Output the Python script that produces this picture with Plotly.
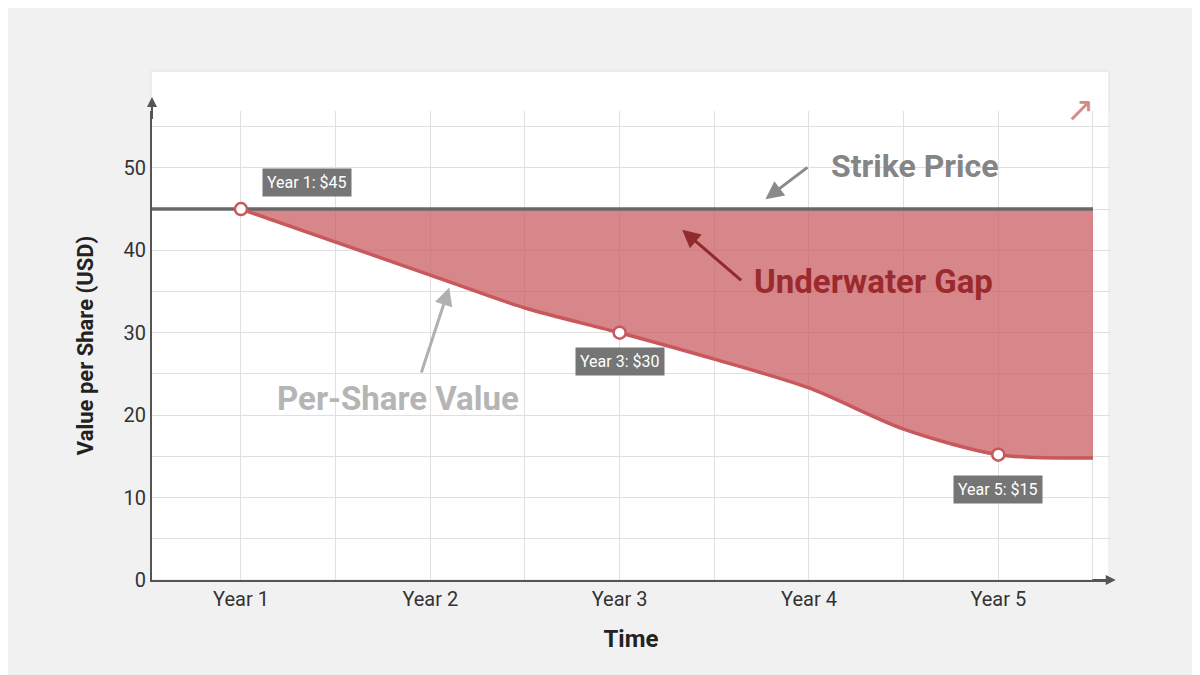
import plotly.graph_objects as go

# per-share value (years, USD)
value_years = [1, 1.5, 2, 2.5, 3, 3.5, 4, 4.5, 5, 5.5]
value_usd = [45, 41, 37, 33, 30, 26.8, 23.3, 18.3, 15.2, 14.8]
strike_price = 45
highlight_years = [1, 3, 5]
highlight_values = [45, 30, 15.2]
highlight_labels = ["Year 1: $45", "Year 3: $30", "Year 5: $15"]
year_ticks = [1, 2, 3, 4, 5]
year_labels = ["Year 1", "Year 2", "Year 3", "Year 4", "Year 5"]

RED = "#c8585b"
FILL = "rgba(200,88,91,0.72)"
GRAY = "#686868"

fig = go.Figure()

# strike line (also the upper edge of the fill)
fig.add_trace(go.Scatter(
    x=[value_years[0], value_years[-1]], y=[strike_price, strike_price],
    mode="lines", line=dict(color=GRAY, width=3.5), hoverinfo="skip",
))
fig.add_trace(go.Scatter(
    x=value_years, y=value_usd, mode="lines", fill="tonexty", fillcolor=FILL,
    line=dict(color=RED, width=3.5, shape="spline", smoothing=0.8), hoverinfo="skip",
))
# extend strike line to left edge
fig.add_trace(go.Scatter(
    x=[0.53, 1], y=[strike_price, strike_price], mode="lines",
    line=dict(color=GRAY, width=3.5), hoverinfo="skip",
))
fig.add_trace(go.Scatter(
    x=highlight_years, y=highlight_values, mode="markers",
    marker=dict(size=12, color="white", line=dict(color=RED, width=2.5)),
    hoverinfo="skip",
))

label_pos = [(1.35, 48.2), (3.0, 26.5), (5.0, 11.0)]
for (x, y), text in zip(label_pos, highlight_labels):
    fig.add_annotation(
        x=x, y=y, text=text, showarrow=False, bgcolor="#757575",
        font=dict(family="Roboto", size=16, color="white"), borderpad=4,
    )

# callouts
fig.add_annotation(x=4.56, y=50.2, text="<b>Strike Price</b>", showarrow=False,
                   font=dict(family="Roboto", size=32, color="#858585"))
fig.add_annotation(x=3.77, y=46.2, ax=4.0, ay=50.2, axref="x", ayref="y",
                   showarrow=True, arrowhead=2, arrowsize=1.2, arrowwidth=3,
                   arrowcolor="#8a8a8a", text="")
fig.add_annotation(x=4.34, y=36.2, text="<b>Underwater Gap</b>", showarrow=False,
                   font=dict(family="Roboto", size=33, color="#9b2a2e"))
fig.add_annotation(x=3.33, y=42.5, ax=3.65, ay=36.2, axref="x", ayref="y",
                   showarrow=True, arrowhead=2, arrowsize=1.2, arrowwidth=3,
                   arrowcolor="#8f2a2e", text="")
fig.add_annotation(x=1.83, y=22.0, text="<b>Per-Share Value</b>", showarrow=False,
                   font=dict(family="Roboto", size=33, color="#b5b5b5"))
fig.add_annotation(x=2.1, y=35.5, ax=1.95, ay=25.0, axref="x", ayref="y",
                   showarrow=True, arrowhead=2, arrowsize=1.2, arrowwidth=3,
                   arrowcolor="#b0b0b0", text="")
fig.add_annotation(x=0.985, y=1.06, xref="paper", yref="paper", text="↗",
                   showarrow=False, font=dict(size=34, color="#d08c88"))

# white card behind plot
fig.add_shape(type="rect", xref="paper", yref="paper", x0=-0.001, x1=0.999,
              y0=0.0, y1=1.085, fillcolor="white", line=dict(color="#e2e2e2", width=1),
              layer="below")

grid_x = [1 + 0.5 * i for i in range(10)]
fig.update_xaxes(
    range=[0.53, 5.59], tickvals=grid_x,
    ticktext=[year_labels[year_ticks.index(v)] if v in year_ticks else "" for v in grid_x],
    showgrid=True, gridcolor="#e0e0e0", ticks="", zeroline=False,
    showline=True, linecolor="#555", linewidth=2,
    tickfont=dict(family="Roboto", size=20, color="#333"),
    title=dict(text="<b>Time</b>", font=dict(family="Roboto", size=24, color="#222"), standoff=20),
)
grid_y = list(range(0, 60, 5))
fig.update_yaxes(
    range=[0, 56.9], tickvals=grid_y,
    ticktext=[str(v) if v % 10 == 0 else "" for v in grid_y],
    showgrid=True, gridcolor="#e0e0e0", ticks="", zeroline=False,
    showline=True, linecolor="#555", linewidth=2,
    tickfont=dict(family="Roboto", size=20, color="#333"),
    title=dict(text="<b>Value per Share (USD)</b>", font=dict(family="Roboto", size=22, color="#222"), standoff=24),
)
# axis arrowheads
fig.add_annotation(x=0, y=1.03, ax=0, ay=0.98, xref="x domain", yref="y domain",
                   axref="x domain", ayref="y domain", showarrow=True, arrowhead=2,
                   arrowsize=1, arrowwidth=2, arrowcolor="#555", text="")
fig.add_annotation(x=1.006, y=0, ax=0.98, ay=0, xref="x domain", yref="y domain",
                   axref="x domain", ayref="y domain", showarrow=True, arrowhead=2,
                   arrowsize=1, arrowwidth=2, arrowcolor="#555", text="")

fig.update_layout(
    width=1200, height=675, showlegend=False,
    paper_bgcolor="#f1f1f1", plot_bgcolor="white",
    margin=dict(l=144, r=98, t=103, b=103),
)
fig.write_html("out.html")
